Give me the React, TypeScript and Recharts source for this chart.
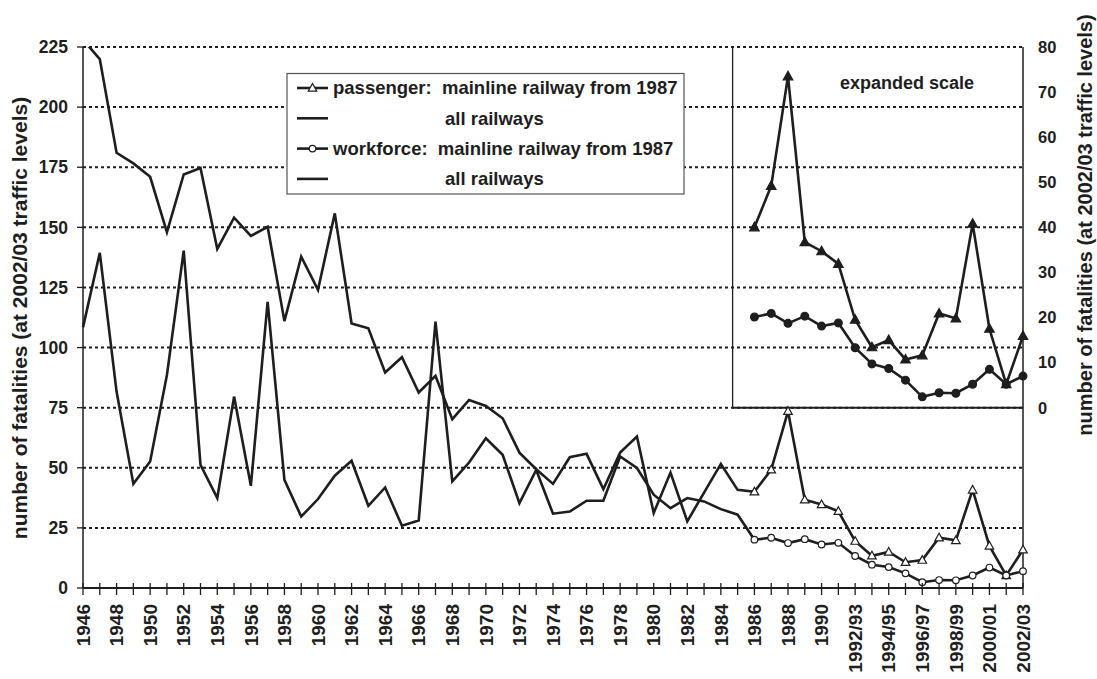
import React from 'react';
import { LineChart, Line, XAxis, YAxis, CartesianGrid, ReferenceLine } from 'recharts';

const years: string[] = [
  '1946','1947','1948','1949','1950','1951','1952','1953','1954','1955',
  '1956','1957','1958','1959','1960','1961','1962','1963','1964','1965',
  '1966','1967','1968','1969','1970','1971','1972','1973','1974','1975',
  '1976','1977','1978','1979','1980','1981','1982','1983','1984','1985',
  '1986','1987','1988','1989','1990','1991','1992/93','1993/94','1994/95','1995/96',
  '1996/97','1997/98','1998/99','1999/00','2000/01','2001/02','2002/03',
];

// 1946 - 1986, all railways
const passengerAll: number[] = [
  228, 220, 181, 176.6, 171, 148, 172, 174.7, 141, 154,
  146.4, 150.2, 111, 137.8, 124, 155.8, 110, 108, 89.6, 96,
  81.3, 88.2, 70.2, 78.2, 75.7, 70.6, 56.3, 49.4, 43.3, 54.4,
  55.8, 41.1, 56.3, 63, 31.2, 48, 27.7, 39.7, 51.6, 40.8,
  40,
];
const workforceAll: number[] = [
  108.4, 139.4, 81.7, 43.3, 52.6, 88.6, 140.3, 51.2, 37.4, 79.6,
  42.5, 119, 45, 29.7, 37, 46.7, 52.9, 34.2, 41.8, 25.9,
  28.1, 110.8, 44.3, 52.2, 62.3, 55.4, 35.3, 49.1, 30.9, 31.8,
  36.3, 36.3, 54.7, 49.9, 38.8, 33.2, 37.4, 36, 32.8, 30.5,
  20.1,
];
// 1986 - 2002/03, mainline railway
const passengerMain: number[] = [
  40, 49.2, 73.5, 36.7, 34.7, 31.9, 19.5, 13.4, 15, 10.7, 11.6, 20.9, 19.8, 40.8, 17.5, 5.2, 15.9,
];
const workforceMain: number[] = [
  20.1, 20.9, 18.7, 20.3, 18.1, 18.8, 13.3, 9.7, 8.7, 6.1, 2.4, 3.3, 3.2, 5.2, 8.5, 5.2, 7.0,
];

const leftTicks: number[] = [0, 25, 50, 75, 100, 125, 150, 175, 200, 225];
const rightTicks: number[] = [0, 10, 20, 30, 40, 50, 60, 70, 80];
const mainStart = 40; // index of 1986
const insetLeftEdge = 38.7; // x position (in category units) of the inset frame

const rows = years.map((label, idx) => ({
  idx,
  label,
  passengerAll: idx < passengerAll.length ? passengerAll[idx] : null,
  workforceAll: idx < workforceAll.length ? workforceAll[idx] : null,
  passengerMain: idx >= mainStart ? passengerMain[idx - mainStart] : null,
  workforceMain: idx >= mainStart ? workforceMain[idx - mainStart] : null,
}));
const xTicks = years.map((_, i) => i);

const FONT = '"Liberation Sans", Arial, Helvetica, sans-serif';
const INK = '#1e1e1e';

const XTick = (props: any) => {
  const { x, y, payload } = props;
  const i = payload.value as number;
  return (
    <g>
      <line x1={x} x2={x} y1={y - 5} y2={y + 7} stroke={INK} strokeWidth={1.3} />
      {i % 2 === 0 ? (
        <text
          transform={`translate(${x},${y + 16}) rotate(-90)`}
          textAnchor="end"
          dy="0.35em"
          fontFamily={FONT}
          fontWeight="bold"
          fontSize={19}
          fill={INK}
        >
          {years[i]}
        </text>
      ) : null}
    </g>
  );
};

const tri = (cx: number, cy: number, s: number) =>
  `${cx},${cy - s} ${cx - s * 0.95},${cy + s * 0.7} ${cx + s * 0.95},${cy + s * 0.7}`;

const makeDot = (shape: 'tri' | 'circle', filled: boolean) => (props: any) => {
  const { cx, cy, value, index } = props;
  if (value === null || value === undefined || cx == null || cy == null) return <g key={`d${index}`} />;
  if (shape === 'tri') {
    return (
      <polygon
        key={`d${index}`}
        points={tri(cx, cy, filled ? 5 : 4.5)}
        fill={filled ? INK : '#fff'}
        stroke={INK}
        strokeWidth={1.2}
      />
    );
  }
  return (
    <circle
      key={`d${index}`}
      cx={cx}
      cy={cy}
      r={filled ? 3.9 : 3.3}
      fill={filled ? INK : '#fff'}
      stroke={INK}
      strokeWidth={1.2}
    />
  );
};

const legendRows = [
  { kind: 'tri', text: 'passenger:  mainline railway from 1987', x: 333 },
  { kind: 'none', text: 'all railways', x: 445 },
  { kind: 'circle', text: 'workforce:  mainline railway from 1987', x: 333 },
  { kind: 'none', text: 'all railways', x: 445 },
];

export default function App() {
  return (
    <div style={{ position: 'absolute', left: 0, top: 0, width: 1097, height: 679, background: '#fff' }}>
      <LineChart
        width={1097}
        height={679}
        data={rows}
        margin={{ top: 47, right: 0, bottom: 0, left: 0 }}
      >
        <CartesianGrid
          yAxisId="left"
          vertical={false}
          stroke={INK}
          strokeWidth={2}
          strokeDasharray="3 3"
        />
        <XAxis
          type="number"
          dataKey="idx"
          domain={[0, years.length - 1]}
          ticks={xTicks}
          interval={0}
          tick={<XTick />}
          tickLine={false}
          tickSize={0}
          tickMargin={0}
          height={91}
          axisLine={{ stroke: INK, strokeWidth: 2 }}
        />
        <YAxis
          yAxisId="left"
          domain={[0, 225]}
          ticks={leftTicks}
          allowDataOverflow
          width={83}
          tickSize={6}
          tickMargin={9}
          interval={0}
          tick={{ fontSize: 17.5, fontWeight: 'bold', fill: INK, fontFamily: FONT }}
          tickLine={{ stroke: INK, strokeWidth: 1.3 }}
          axisLine={{ stroke: INK, strokeWidth: 1.5 }}
        />
        <YAxis
          yAxisId="right"
          orientation="right"
          domain={[-40, 80]}
          ticks={rightTicks}
          allowDataOverflow
          width={74}
          tickSize={0}
          tickMargin={15}
          interval={0}
          tick={{ fontSize: 16.5, fontWeight: 'bold', fill: INK, fontFamily: FONT }}
          tickLine={false}
          axisLine={{ stroke: INK, strokeWidth: 1.5 }}
        />
        <ReferenceLine
          yAxisId="right"
          segment={[{ x: insetLeftEdge, y: 0 }, { x: insetLeftEdge, y: 80 }]}
          stroke={INK}
          strokeWidth={1.3}
        />
        <ReferenceLine
          yAxisId="right"
          segment={[{ x: insetLeftEdge, y: 0 }, { x: years.length - 1, y: 0 }]}
          stroke={INK}
          strokeWidth={2}
        />
        <Line yAxisId="left" dataKey="passengerAll" stroke={INK} strokeWidth={2.6} dot={false} isAnimationActive={false} />
        <Line yAxisId="left" dataKey="workforceAll" stroke={INK} strokeWidth={2.6} dot={false} isAnimationActive={false} />
        <Line yAxisId="left" dataKey="passengerMain" stroke={INK} strokeWidth={2.6} dot={makeDot('tri', false)} isAnimationActive={false} />
        <Line yAxisId="left" dataKey="workforceMain" stroke={INK} strokeWidth={2.6} dot={makeDot('circle', false)} isAnimationActive={false} />
        <Line yAxisId="right" dataKey="passengerMain" stroke={INK} strokeWidth={2.6} dot={makeDot('tri', true)} isAnimationActive={false} />
        <Line yAxisId="right" dataKey="workforceMain" stroke={INK} strokeWidth={2.6} dot={makeDot('circle', true)} isAnimationActive={false} />

        <g>
          <text
            transform="translate(19.5,318) rotate(-90)"
            textAnchor="middle"
            dy="0.35em"
            fontFamily={FONT}
            fontWeight="bold"
            fontSize={21}
            fill={INK}
          >
            number of fatalities (at 2002/03 traffic levels)
          </text>
          <text
            transform="translate(1084.5,225) rotate(-90)"
            textAnchor="middle"
            dy="0.35em"
            fontFamily={FONT}
            fontWeight="bold"
            fontSize={20}
            fill={INK}
          >
            number of fatalities (at 2002/03 traffic levels)
          </text>
          <text x={840} y={83} dy="0.35em" fontFamily={FONT} fontWeight="bold" fontSize={18} fill={INK}>
            expanded scale
          </text>
          <rect x={287} y={73.5} width={397} height={120.5} fill="#fff" stroke="#555" strokeWidth={1.2} />
          {legendRows.map((r, i) => {
            const cy = 88 + i * 30.3;
            return (
              <g key={i}>
                <line x1={297} x2={328} y1={cy} y2={cy} stroke={INK} strokeWidth={2.6} />
                {r.kind === 'tri' ? (
                  <polygon points={tri(312.5, cy, 4.5)} fill="#fff" stroke={INK} strokeWidth={1.2} />
                ) : null}
                {r.kind === 'circle' ? (
                  <circle cx={312.5} cy={cy} r={3.3} fill="#fff" stroke={INK} strokeWidth={1.2} />
                ) : null}
                <text
                  x={r.x}
                  y={cy}
                  dy="0.35em"
                  fontFamily={FONT}
                  fontWeight="bold"
                  fontSize={18.5}
                  fill={INK}
                  style={{ whiteSpace: 'pre' }}
                >
                  {r.text}
                </text>
              </g>
            );
          })}
        </g>
      </LineChart>
    </div>
  );
}
